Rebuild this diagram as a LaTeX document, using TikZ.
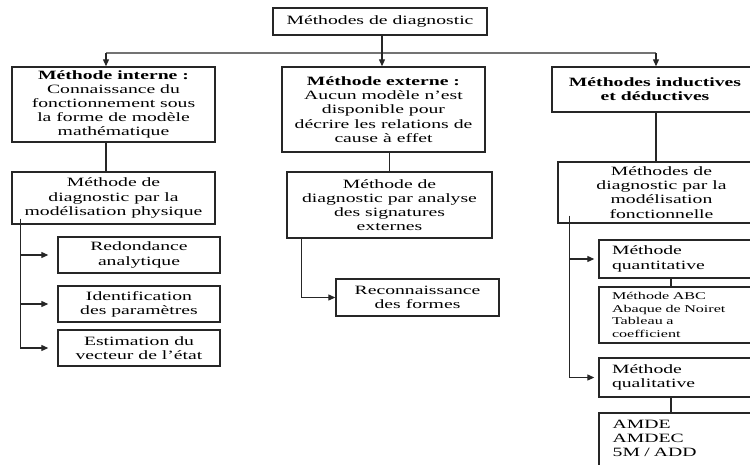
\documentclass[tikz,border=0pt]{standalone}
\usepackage{fontspec}
\setmainfont{Liberation Serif}[FakeStretch=1.55]
\usetikzlibrary{positioning, calc, arrows.meta}
\tikzset{
  box/.style={draw=black!85, line width=1.4pt, fill=white, inner sep=2pt, align=center,
    font=\fontsize{12.7}{14.2}\selectfont},
  lbox/.style={box, align=left, inner xsep=13pt, text width=145pt},
  link/.style={draw=black!85, line width=1.2pt},
  arr/.style={link, -{Triangle[length=7pt,width=6pt]}},
}

\begin{document}
\begin{tikzpicture}[x=1pt,y=-1pt]
    \useasboundingbox (0,0) rectangle (750,464);
    \clip (0,0) rectangle (750,464);
    % first row
    \node[box, minimum width=214pt, minimum height=27pt] (diag) at (380,21.5) {Méthodes de diagnostic};
    \node[box, minimum width=203pt, minimum height=75pt] (interne) at (113.5,104.5)
        {\textbf{Méthode interne :}\\Connaissance du\\fonctionnement sous\\la forme de modèle\\mathématique};
    \node[box, minimum width=203pt, minimum height=85pt] (externe) at (383.5,109.5)
        {\textbf{Méthode externe :}\\Aucun modèle n’est\\disponible pour\\décrire les relations de\\cause à effet};
    \node[box, minimum width=206pt, minimum height=45pt] (inductive) at (655,89.5)
        {\textbf{Méthodes inductives}\\\textbf{et déductives}};
    % second row
    \node[box, minimum width=203pt, minimum height=52pt] (physique) at (113.5,198)
        {Méthode de\\diagnostic par la\\modélisation physique};
    \node[box, minimum width=205pt, minimum height=66pt] (signature) at (389.5,205)
        {Méthode de\\diagnostic par analyse\\des signatures\\externes};
    \node[box, minimum width=207pt, minimum height=61pt] (fonction) at (661.5,192.5)
        {Méthodes de\\diagnostic par la\\modélisation\\fonctionnelle};
    % leaves
    \node[box, minimum width=162pt, minimum height=36pt] (redond) at (139,255) {Redondance\\analytique};
    \node[box, minimum width=162pt, minimum height=36pt] (ident) at (139,304) {Identification\\des paramètres};
    \node[box, minimum width=162pt, minimum height=36pt] (estim) at (139,348) {Estimation du\\vecteur de l’état};
    \node[box, minimum width=163pt, minimum height=37pt] (recon) at (417.5,297.5) {Reconnaissance\\des formes};
    \node[lbox, minimum height=38pt] (quant) at (684.5,259) {Méthode\\quantitative};
    \node[lbox, minimum height=56pt, font=\fontsize{10.4}{12.4}\selectfont] (abc) at (684.5,315)
        {Méthode ABC\\Abaque de Noiret\\Tableau a\\coefficient};
    \node[lbox, minimum height=39pt] (qual) at (684.5,377.5) {Méthode\\qualitative};
    \node[lbox, draw=none, fill=none, anchor=north west, inner ysep=6pt] (amde) at (599,413)
        {AMDE\\AMDEC\\5M / ADD};
    \draw[draw=black!85, line width=1.4pt] (amde.north west) rectangle ++(175,70);
    % connectors
    \coordinate (busL) at (106,53);
    \coordinate (busR) at (656,53);
    \draw[link, draw=black!55] (busL) -- (busR);
    \draw[arr] (busL) -- (busL |- interne.north);
    \draw[arr] (busR) -- (busR |- inductive.north);
    \draw[arr] ([xshift=2pt]diag.south) -- ([xshift=2pt]diag.south |- externe.north);
    \draw[link] (busL |- interne.south) -- (busL |- physique.north);
    \draw[link] (signature.north) -- (signature.north |- externe.south);
    \draw[link] (busR |- inductive.south) -- (busR |- fonction.north);
    % branches
    \coordinate (physbr) at ([xshift=9pt,yshift=6pt]physique.south west);
    \draw[link] (physbr) -- (physbr |- estim.west);
    \foreach \n in {redond, ident, estim}
        \draw[arr, shorten >=9pt] (physbr |- \n.west) -- (\n.west);
    \coordinate (sigbr) at ([xshift=15pt]signature.south west);
    \draw[arr] (sigbr) |- (recon.west);
    \coordinate (foncbr) at ([xshift=12pt,yshift=8pt]fonction.south west);
    \draw[link] (foncbr) -- (foncbr |- qual.west);
    \foreach \n in {quant, qual}
        \draw[arr, shorten >=4pt] (foncbr |- \n.west) -- (\n.west);
    \draw[link] ([xshift=-13.5pt]quant.south) -- ([xshift=-13.5pt]abc.north);
    \draw[link] ([xshift=-13.5pt]qual.south) -- ([xshift=-13.5pt]qual.south |- amde.north);
\end{tikzpicture}
\end{document}
